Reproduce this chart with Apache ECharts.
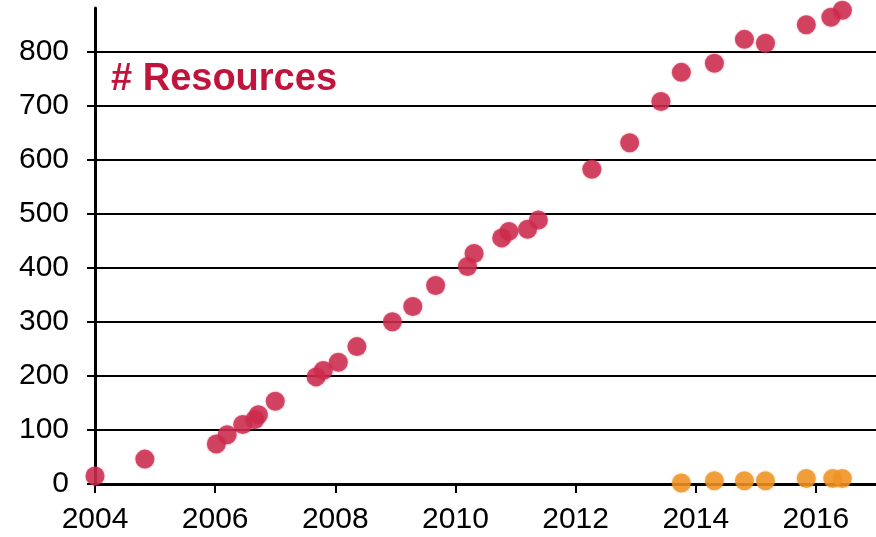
<!DOCTYPE html>
<html>
<head>
<meta charset="utf-8">
<script src="https://cdn.jsdelivr.net/npm/echarts@6/dist/echarts.min.js"></script>
<style>html,body{margin:0;padding:0;background:#fff;}#c{width:876px;height:537px;}</style>
</head>
<body>
<div id="c"></div>
<script>
// Resources (red) — [year, count]
const resourcesX = [2004.0, 2004.83, 2006.02, 2006.2, 2006.46, 2006.66, 2006.72, 2007.0, 2007.68, 2007.8, 2008.05, 2008.36, 2008.95, 2009.29, 2009.67, 2010.2, 2010.31, 2010.77, 2010.89, 2011.2, 2011.38, 2012.27, 2012.9, 2013.42, 2013.76, 2014.31, 2014.81, 2015.16, 2015.84, 2016.25, 2016.44];
const resourcesY = [15, 46, 74, 91, 110, 119, 128, 153, 198, 210, 225, 254, 300, 328, 367, 402, 426, 455, 467, 471, 488, 582, 631, 707, 761, 778, 822, 815, 849, 863, 876];
// Second series (orange)
const otherX = [2013.76, 2014.31, 2014.81, 2015.16, 2015.84, 2016.28, 2016.44];
const otherY = [2, 6, 6, 6, 10, 10, 10];
const xTicks = [2004, 2006, 2008, 2010, 2012, 2014, 2016];
const yTicks = [0, 100, 200, 300, 400, 500, 600, 700, 800];
const titleText = '# Resources';

const zip = (xs, ys) => xs.map((x, i) => [x, ys[i]]);
const chart = echarts.init(document.getElementById('c'));
chart.setOption({
  animation: false,
  backgroundColor: '#fff',
  title: {
    text: titleText, left: 106, top: 56,
    textStyle: { fontFamily: 'Liberation Sans', fontWeight: 'bold', fontSize: 38, color: '#c0143c' }
  },
  grid: { left: 95, right: -2, top: 8, bottom: 53, containLabel: false },
  xAxis: {
    type: 'value', min: 2004, max: 2017, interval: 1,
    axisLine: { show: true, onZero: false, lineStyle: { color: '#000', width: 3 } },
    axisTick: { show: true, length: 9, customValues: xTicks, lineStyle: { color: '#000', width: 2 } },
    axisLabel: { customValues: xTicks, margin: 21, fontSize: 30, color: '#000', fontFamily: 'Liberation Sans', formatter: v => String(v) },
    splitLine: { show: false }
  },
  yAxis: {
    type: 'value', min: 0, max: 880, interval: 100,
    axisLine: { show: true, lineStyle: { color: '#000', width: 3 } },
    axisTick: { show: true, length: 8, customValues: yTicks, lineStyle: { color: '#000', width: 2 } },
    axisLabel: { customValues: yTicks, margin: 26, fontSize: 30, color: '#000', fontFamily: 'Liberation Sans' },
    splitLine: { show: true, lineStyle: { color: ['#000','#000','#000','#000','#000','#000','#000','#000','#000','rgba(0,0,0,0)'], width: 2 } }
  },
  series: [
    { type: 'scatter', data: zip(resourcesX, resourcesY), symbolSize: 19,
      itemStyle: { color: '#cc2a4e', shadowBlur: 2, shadowColor: 'rgba(204,42,78,0.6)' }, z: 3 },
    { type: 'scatter', data: zip(otherX, otherY), symbolSize: 19,
      itemStyle: { color: '#ef9223', shadowBlur: 2, shadowColor: 'rgba(239,146,35,0.6)' }, z: 4 }
  ]
});
</script>
</body>
</html>
